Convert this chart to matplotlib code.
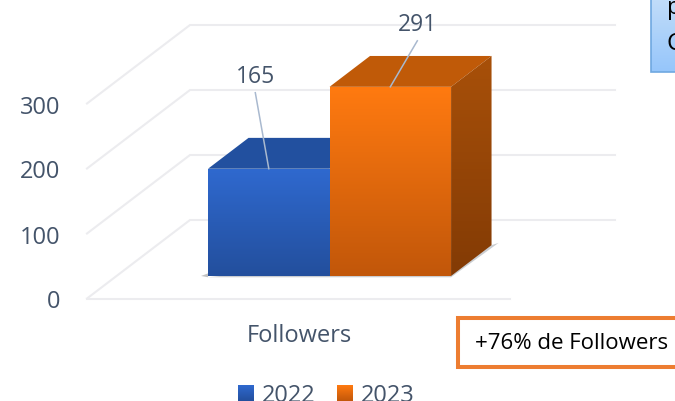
"""3D-look column chart: followers 2022 vs 2023, drawn with a sheared floor."""
import numpy as np
import matplotlib
matplotlib.use("Agg")
import matplotlib.pyplot as plt
from matplotlib.patches import Polygon, Rectangle
from matplotlib.colors import LinearSegmentedColormap

plt.rcParams["font.family"] = "Open Sans"

years = ["2022", "2023"]
followers = [165, 291]
value_ticks = [0, 100, 200, 300]
category = "Followers"
note = "+76% de Followers"
box_lines = ["p", "C"]

TEXT = "#44546a"
GRID = "#ececef"
# top of front face, bottom of front face, top face, side top, side bottom
BLUE = ("#2f69cf", "#234f9d", "#22509f", "#1d4488", "#17366c")
ORANGE = ("#ff7a10", "#c2570a", "#c05a08", "#a85009", "#833b05")

W, H = 675, 402
PX_PER_UNIT = 0.65
FLOOR_Y = 299.5       # pixel row of value 0 on the front edge
DEPTH_DX, DEPTH_DY = 103, 78.5   # pixel shift from front to back of the floor
FLOOR_X0, FLOOR_X1 = 87, 510
BAR_W = 121.5
BAR_X = 300           # shared edge of the two columns on the front floor edge
BAR_D0, BAR_D1 = 0.287, 0.68
# leader line end relative to the top of each column (pixels)
LEADER = [(-13.5, 76), (27, 46)]


def proj(x, value, depth=0.0):
    """floor x, value, depth (0 front, 1 back) -> axes coordinates"""
    return x + depth * DEPTH_DX, value + depth * DEPTH_DY / PX_PER_UNIT


def row(py):
    """pixel row from the top of the picture -> axes y"""
    return (FLOOR_Y - py) / PX_PER_UNIT


def gradient(ax, pts, top, bottom):
    cmap = LinearSegmentedColormap.from_list("g", [top, bottom])
    pts = np.array(pts)
    extent = (pts[:, 0].min(), pts[:, 0].max(), pts[:, 1].min(), pts[:, 1].max())
    im = ax.imshow(np.linspace(0, 1, 64).reshape(-1, 1), cmap=cmap, extent=extent,
                   aspect="auto", origin="upper", zorder=3)
    patch = Polygon(pts, closed=True, transform=ax.transData, fc="none", ec="none")
    ax.add_patch(patch)
    im.set_clip_path(patch)


def draw_bar(ax, x0, value, colors):
    x1 = x0 + BAR_W
    front = [proj(x0, value, BAR_D0), proj(x1, value, BAR_D0),
             proj(x1, 0, BAR_D0), proj(x0, 0, BAR_D0)]
    side = [proj(x1, value, BAR_D0), proj(x1, value, BAR_D1),
            proj(x1, 0, BAR_D1), proj(x1, 0, BAR_D0)]
    top = [proj(x0, value, BAR_D0), proj(x0, value, BAR_D1),
           proj(x1, value, BAR_D1), proj(x1, value, BAR_D0)]
    ax.add_patch(Polygon(top, closed=True, fc=colors[2], ec="none", zorder=3))
    gradient(ax, side, colors[3], colors[4])
    gradient(ax, front, colors[0], colors[1])


fig = plt.figure(figsize=(W / 100, H / 100), dpi=100)
ax = fig.add_axes([0, 0, 1, 1])
ax.axis("off")
ax.set_xlim(0, W)
ax.set_ylim(row(H), row(0))
ax.autoscale(False)

# gridlines: slanted on the left wall, flat on the back wall
ax.plot(*zip(proj(FLOOR_X0, 0), proj(FLOOR_X1, 0)), color=GRID, lw=1.5, zorder=1)
for v in value_ticks:
    wall = [proj(FLOOR_X0, v, 0), proj(FLOOR_X0, v, 1), proj(FLOOR_X1 + 2, v, 1)]
    ax.plot(*zip(*wall), color=GRID, lw=1.5, zorder=1)
    ax.text(proj(FLOOR_X0, v)[0] - 27, v, str(v), color=TEXT, fontsize=17,
            ha="right", va="center_baseline", zorder=5)

# soft shadow hugging the base of the columns
left = BAR_X - BAR_W
right = BAR_X + BAR_W
ax.add_patch(Polygon([proj(left - 7, 0, BAR_D0), proj(left, 4, BAR_D0),
                      proj(left, -2, BAR_D0)],
                     closed=True, fc="#9a9a9a", ec="none", alpha=0.6, zorder=2))
ax.add_patch(Polygon([proj(left, -2, BAR_D0), proj(right, -2, BAR_D0),
                      proj(right + 5, 1, BAR_D1 + 0.02), proj(right, 0, BAR_D1)],
                     closed=True, fc="#a8adb3", ec="none", alpha=0.6, zorder=2))

draw_bar(ax, left, followers[0], BLUE)
draw_bar(ax, BAR_X, followers[1], ORANGE)

# data labels with leader lines
for i, val in enumerate(followers):
    px, py = proj(left + i * BAR_W + BAR_W / 2, val, BAR_D0)
    tx = px + LEADER[i][0]
    ty = py + LEADER[i][1] / PX_PER_UNIT
    ax.plot([px, tx], [py, ty], color="#a9b9cf", lw=1.1, zorder=4)
    ax.text(tx, ty + 20 / PX_PER_UNIT, str(val), color=TEXT, fontsize=16.5,
            ha="center", va="center_baseline", zorder=5)

ax.text((FLOOR_X0 + FLOOR_X1) / 2 + 0.5, row(335.5), category, color=TEXT, fontsize=17,
        ha="center", va="center", zorder=5)

# legend swatches and labels
for x, label, col in zip([238, 337], years, [BLUE, ORANGE]):
    pts = [(x, row(386)), (x + 16, row(386)), (x + 16, row(402)), (x, row(402))]
    gradient(ax, pts, col[0], col[1])
    ax.text(x + 24, row(393), label, color=TEXT, fontsize=17, ha="left",
            va="center_baseline", zorder=5)

# side annotations, both run off the right edge of the slide
fig.add_artist(Rectangle((458 / W, 1 - 368 / H), 240 / W, 49 / H, transform=fig.transFigure,
                         fc="white", ec="#ed7d31", lw=2.9, zorder=6))
fig.text(475 / W, 1 - 344 / H, note, color="black", fontsize=16, va="center", zorder=7)

box = [(650.5, row(-5)), (690, row(-5)), (690, row(72.5)), (650.5, row(72.5))]
gradient(ax, box, "#c4def9", "#96c6fb")
ax.add_patch(Polygon(box, closed=True, fc="none", ec="#6fa8e0", lw=1.2, zorder=4))
for line, py in zip(box_lines, [8, 44]):
    ax.text(667, row(py), line, color="black", fontsize=17, va="center", zorder=5)

fig.savefig("out.png", dpi=100)
